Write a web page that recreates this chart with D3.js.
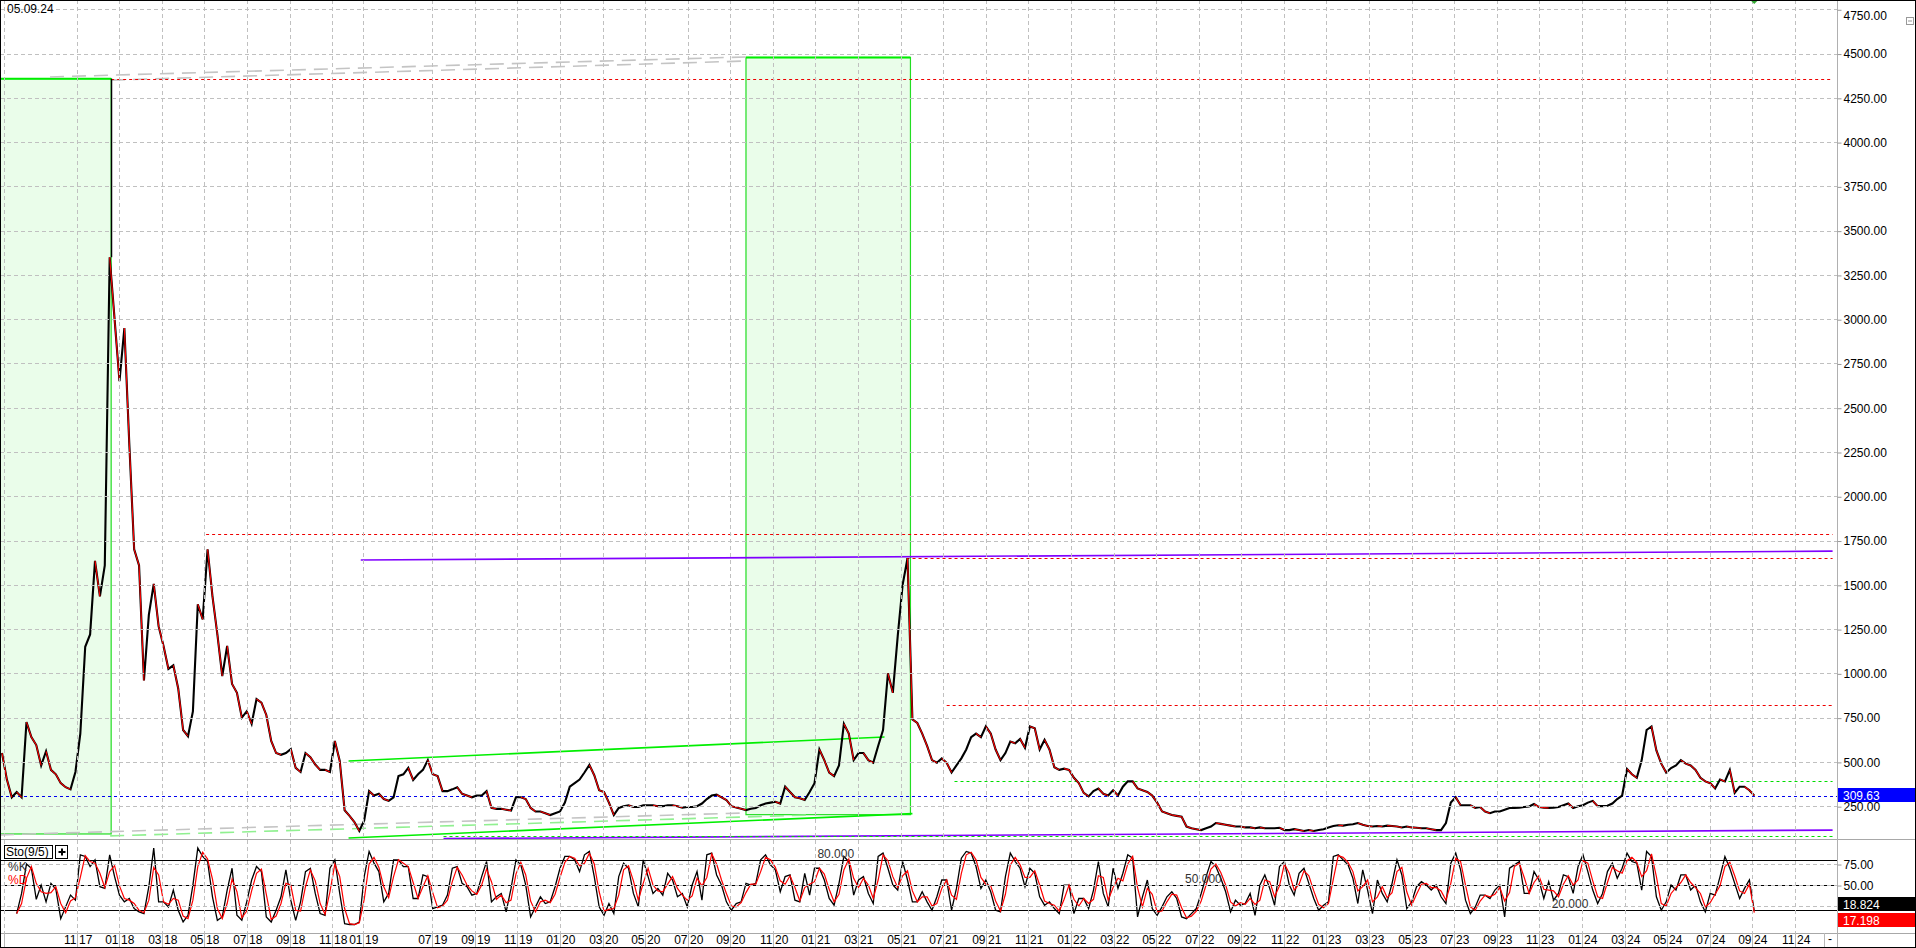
<!DOCTYPE html>
<html><head><meta charset="utf-8">
<script src="https://cdn.jsdelivr.net/npm/d3@7"></script>
<style>
html,body{margin:0;padding:0;background:#fff;overflow:hidden}
svg{display:block;font-family:"Liberation Sans",Arial,sans-serif}
</style></head><body>
<svg id="c" width="1916" height="948"></svg>
<script>
// ---------------- DATA (weekly samples, index = trading week) ----------------
const dateLabel = "05.09.24";
const closes = [
550,400,300,330,300,725,640,595,480,560,
455,430,380,357,345,443,660,1150,1220,1635,
1435,1610,3350,3000,2650,2950,2300,1700,1610,960,
1330,1505,1265,1155,1025,1045,915,680,645,785,
1390,1305,1700,1435,1220,985,1155,940,890,750,
785,715,855,835,765,618,550,540,550,572,
466,443,550,527,485,455,455,443,618,505,
227,195,160,110,170,335,310,320,290,280,
300,420,430,466,398,430,455,510,430,420,
335,335,345,357,320,310,300,310,310,335,
240,235,235,230,225,300,300,290,240,220,
220,210,200,210,220,270,360,380,400,440,
483,425,340,330,270,200,240,250,255,245,
245,255,255,255,250,250,255,255,250,242,
245,245,250,265,290,310,315,300,285,250,
242,235,228,235,240,255,265,270,275,265,
360,330,300,295,285,330,380,570,510,440,
420,480,715,660,510,550,550,510,495,590,
680,1000,890,1210,1500,1650,740,720,660,590,
510,495,520,495,440,480,520,570,640,660,
640,700,660,570,510,550,615,605,630,580,
700,690,570,625,570,470,455,462,455,410,
380,325,305,335,350,320,310,340,310,360,
390,390,350,340,330,310,270,220,210,200,
195,190,135,125,120,115,125,135,155,150,
145,140,135,135,130,130,125,130,125,125,
125,128,115,115,120,115,110,115,110,115,
120,130,138,142,140,145,148,155,145,138,
135,138,135,140,138,135,130,135,130,128,
125,125,120,115,115,155,270,300,255,255,
255,240,245,220,210,220,220,230,240,240,
242,245,248,262,245,242,240,242,245,255,
265,240,250,255,270,280,250,250,252,265,
290,310,460,430,410,510,680,700,565,490,
440,465,480,510,490,480,455,410,390,380,
350,400,390,455,325,360,360,340,309.63
];
const stochK = [
null,null,null,16,40,75,70,33,50,30,
52,45,10,24,38,32,86,84,72,80,
48,46,86,60,38,30,34,22,18,16,
48,94,30,30,24,44,20,6,14,50,
94,84,78,36,8,12,44,70,14,8,
30,56,72,66,12,6,20,36,68,32,
8,30,66,70,40,16,14,70,80,40,
4,3,3,6,60,90,76,66,30,40,
80,80,72,72,34,34,62,60,22,24,
26,38,70,72,52,48,38,40,60,78,
30,36,40,18,46,80,74,50,12,24,
36,28,30,48,70,84,84,80,66,86,
90,60,24,14,28,16,60,76,70,40,
24,80,60,40,46,38,64,56,36,40,
24,50,66,32,86,88,62,50,30,20,
28,30,52,50,52,80,86,74,68,42,
60,62,32,30,64,38,70,70,56,34,
26,52,84,78,38,56,60,40,28,84,
88,70,50,44,78,56,30,30,42,30,
20,36,56,56,20,46,82,90,88,72,
46,56,42,20,18,60,88,78,70,48,
70,64,36,26,30,22,16,50,50,16,
34,34,22,44,78,40,24,70,46,64,
86,82,12,36,56,22,14,24,36,42,
34,12,10,16,22,40,60,78,72,58,
42,18,32,26,28,40,14,50,62,46,
26,72,78,50,38,64,70,52,34,20,
26,30,84,86,80,74,58,28,68,44,
16,56,40,30,52,80,62,22,30,48,
54,50,44,50,36,28,76,88,68,32,
16,24,38,38,34,44,50,12,70,74,
78,40,40,66,56,34,54,32,40,62,
60,40,72,86,66,44,28,40,66,76,
58,70,88,78,76,44,90,84,36,20,
30,50,44,62,62,44,50,30,18,40,
38,60,84,70,52,34,46,56,18.824
];
const stochD = [
null,null,null,16,28,58,72,52,42,40,
41,48,28,17,31,35,59,85,78,76,
64,47,66,73,49,34,32,28,20,17,
32,71,62,30,27,34,32,13,10,32,
72,89,81,57,22,10,28,57,42,11,
19,43,64,69,39,9,13,28,52,50,
20,19,48,68,55,28,15,42,75,60,
22,4,3,5,33,75,83,71,48,35,
60,80,76,72,53,34,48,61,41,23,
25,32,54,71,62,50,43,39,50,69,
54,33,38,29,32,63,77,62,31,18,
30,32,29,39,59,77,84,82,73,76,
88,75,42,19,21,22,38,68,73,55,
32,52,70,50,43,42,51,60,46,38,
32,37,58,49,59,87,75,56,40,25,
24,29,41,51,51,66,83,80,71,55,
51,61,47,31,47,51,54,70,63,45,
30,39,68,81,58,47,58,50,34,56,
86,79,60,47,61,67,43,30,36,36,
25,28,46,56,38,33,64,86,89,80,
59,51,49,31,19,39,74,83,74,59,
59,67,50,31,28,26,19,33,50,33,
25,34,28,33,61,59,32,47,58,55,
75,84,47,24,46,39,18,19,30,39,
38,23,11,13,19,31,50,69,75,65,
50,30,25,29,27,34,27,32,56,54,
36,49,75,64,44,51,67,61,43,27,
23,28,57,85,83,77,66,43,48,56,
30,36,48,35,41,66,71,42,26,39,
51,52,47,47,43,32,52,82,78,50,
24,20,31,38,36,39,47,31,41,72,
76,59,40,53,61,45,44,43,36,51,
61,50,56,79,76,55,36,34,53,71,
67,64,79,83,77,60,67,87,60,28,
25,40,47,53,62,53,47,40,24,29,
39,49,72,77,61,43,40,51,17.198
];
// time axis ticks: month, year, week index
const tickMonths = ["","11","01","03","05","07","09","11","01","07","09","11","01","03","05","07","09","11","01","03","05","07","09","11","01","03","05","07","09","11","01","03","05","07","09","11","01","03","05","07","09","11"];
const tickYears  = ["","17","18","18","18","18","18","18","19","19","19","19","20","20","20","20","20","20","21","21","21","21","21","21","22","22","22","22","22","22","23","23","23","23","23","23","24","24","24","24","24","24"];
const tickWeeks  = [0.4,15.4,24.0,32.7,41.2,50.1,58.8,67.5,73.8,87.9,96.6,105.3,114.0,122.7,131.4,140.1,148.8,157.5,166.2,174.9,183.6,192.3,201.0,209.7,218.4,227.1,235.8,244.5,253.2,261.9,270.6,279.3,288.0,296.7,305.4,314.1,322.8,331.5,340.2,348.9,357.6,366.3];
const priceTicks = [250,500,750,1000,1250,1500,1750,2000,2250,2500,2750,3000,3250,3500,3750,4000,4250,4500,4750];
const stochTicks = [75,50];
const stochGrid = [25,50,75];
const stochLevels = [80,50,20];
const stochLevelLabelWeeks = [166.6,241.7,316.6];
const stochName = "Sto(9/5)";
// annotations: [weekStart, weekEnd, low, high]
const zones = [[-0.41,22.3,93,4358],[152.0,185.6,202,4478]];
// horizontal levels: [weekStart, weekEnd, value]
const redLevels = [[22.3,374,4355],[41.7,374,1787],[184.8,374,1651],[193.0,374,822]];
const blueLevels = [[-0.41,374.9,309.63]];
const greenLevels = [[194.6,374,392],[90.2,374,82]];
// sloped lines: [w0, v0, w1, v1]
const purpleLines = [[73.3,1640,374,1690],[90.2,67,374,115]];
const greenLines = [[70.8,505,180.3,641],[70.8,70,186,208]];
const grayLines = [[9.8,4368,152,4481],[22.3,4350,152,4458],[-0.41,88,152,212]];
const paleGreenLines = [[22.1,82,165,200]];

// ---------------- LAYOUT ----------------
const W=1916,H=948,AX=1837,PB=839,SB=933;
const svg=d3.select("#c");
const x=d3.scaleLinear().domain([-0.41,374.9]).range([0,AX]);
const yP=d3.scaleLinear().domain([64.6,4802.5]).range([PB,0]);
const yS=d3.scaleLinear().domain([-7.1,104.8]).range([SB,PB]);
const cr=v=>Math.round(v)+0.5;
const FONT='"Liberation Sans",Arial,sans-serif';

svg.append("rect").attr("width",W).attr("height",H).attr("fill","#fff");
const defs=svg.append("defs");
defs.append("clipPath").attr("id","clipP").append("rect").attr("x",0).attr("y",0).attr("width",AX).attr("height",PB);
defs.append("clipPath").attr("id","clipS").append("rect").attr("x",0).attr("y",PB+1).attr("width",AX).attr("height",SB-PB-1);

const gP=svg.append("g").attr("clip-path","url(#clipP)");
const gS=svg.append("g").attr("clip-path","url(#clipS)");

// zones (fill)
gP.selectAll("rect.zone").data(zones).join("rect").attr("class","zone")
  .attr("x",d=>x(d[0])).attr("y",d=>yP(d[3]))
  .attr("width",d=>x(d[1])-x(d[0])).attr("height",d=>yP(d[2])-yP(d[3]))
  .attr("fill","#eafdea");

// grid
const grid=svg.append("g").attr("stroke","#c0c0c0").attr("stroke-dasharray","4,3").attr("fill","none");
tickWeeks.forEach(w=>grid.append("line").attr("x1",cr(x(w))).attr("x2",cr(x(w))).attr("y1",0).attr("y2",SB));
priceTicks.forEach(v=>grid.append("line").attr("x1",0).attr("x2",AX).attr("y1",cr(yP(v))).attr("y2",cr(yP(v))));
stochGrid.forEach(v=>grid.append("line").attr("x1",0).attr("x2",AX).attr("y1",cr(yS(v))).attr("y2",cr(yS(v))));

// zone borders
gP.selectAll("rect.zb").data(zones).join("rect").attr("class","zb")
  .attr("x",d=>x(d[0])).attr("y",d=>yP(d[3]))
  .attr("width",d=>x(d[1])-x(d[0])).attr("height",d=>yP(d[2])-yP(d[3]))
  .attr("fill","none").attr("stroke","#22dd22").attr("stroke-width",1.2);
gP.selectAll("line.ztop").data(zones).join("line").attr("class","ztop")
  .attr("x1",d=>x(d[0])).attr("x2",d=>x(d[1])).attr("y1",d=>yP(d[3])).attr("y2",d=>yP(d[3]))
  .attr("stroke","#00ee00").attr("stroke-width",2);

// sloped / level lines
function seg(g,data,stroke,dash,width){
  g.append("g").selectAll("line").data(data).join("line")
   .attr("x1",d=>x(d[0])).attr("y1",d=>yP(d[1])).attr("x2",d=>x(d[2])).attr("y2",d=>yP(d[3]))
   .attr("stroke",stroke).attr("stroke-width",width).attr("stroke-dasharray",dash);
}
function lvl(g,data,stroke,dash,width){
  g.append("g").selectAll("line").data(data).join("line")
   .attr("x1",d=>x(d[0])).attr("x2",d=>x(d[1])).attr("y1",d=>cr(yP(d[2]))).attr("y2",d=>cr(yP(d[2])))
   .attr("stroke",stroke).attr("stroke-width",width).attr("stroke-dasharray",dash);
}
seg(gP,grayLines,"#c4c4c4","14,8",1.6);
seg(gP,paleGreenLines,"#90f090","14,8",1.6);
seg(gP,greenLines,"#00ee00",null,1.6);
seg(gP,purpleLines,"#8000ff",null,1.6);
lvl(gP,redLevels,"#ee0000","3,3",1.2);
lvl(gP,greenLevels,"#00dd00","3,3",1.2);
lvl(gP,blueLevels,"#0000ee","3,3",1.2);

// price line (black) with red on declining weeks
const line=d3.line().x((d,i)=>x(i)).y(d=>yP(d));
gP.append("path").attr("d",line(closes)).attr("fill","none").attr("stroke","#000").attr("stroke-width",2.1).attr("stroke-linejoin","miter");
const downs=[];
closes.forEach((v,i)=>{ if(i>0 && v<closes[i-1]) downs.push(i); });
gP.append("g").selectAll("line").data(downs).join("line")
  .attr("x1",i=>x(i-1)).attr("y1",i=>yP(closes[i-1])).attr("x2",i=>x(i)).attr("y2",i=>yP(closes[i]))
  .attr("stroke","#ff0000").attr("stroke-width",1.1);
// black edge at the first zone's right side up to the spike
gP.append("line").attr("x1",cr(x(zones[0][1]))).attr("x2",cr(x(zones[0][1])))
  .attr("y1",yP(zones[0][3])).attr("y2",yP(d3.max(closes.slice(0,Math.ceil(zones[0][1])+1))))
  .attr("stroke","#000").attr("stroke-width",1.5);

// stochastic
stochLevels.forEach(v=>gS.append("line").attr("x1",0).attr("x2",AX).attr("y1",cr(yS(v))).attr("y2",cr(yS(v))).attr("stroke","#000").attr("stroke-width",1));
const sl=d3.line().defined(d=>d!==null).x((d,i)=>x(i)).y(d=>yS(d));
gS.append("path").attr("d",sl(stochK)).attr("fill","none").attr("stroke","#000").attr("stroke-width",1.3);
gS.append("path").attr("d",sl(stochD)).attr("fill","none").attr("stroke","#ff0000").attr("stroke-width",1.2);
stochLevels.forEach((v,k)=>svg.append("text").attr("x",x(stochLevelLabelWeeks[k])).attr("y",yS(v)-2)
  .attr("font-size",12).attr("font-family",FONT).attr("fill","#333").text(d3.format(".3f")(v)));

// panel separators & borders
svg.append("line").attr("x1",0).attr("x2",W).attr("y1",PB+0.5).attr("y2",PB+0.5).attr("stroke","#a8a8a8");
svg.append("line").attr("x1",0).attr("x2",W).attr("y1",SB+0.5).attr("y2",SB+0.5).attr("stroke","#a8a8a8");
svg.append("line").attr("x1",AX+0.5).attr("x2",AX+0.5).attr("y1",0).attr("y2",H).attr("stroke","#b0b0b0");

// right price axis
const axP=d3.axisRight(yP).tickValues(priceTicks).tickFormat(d3.format(".2f")).tickSize(4).tickPadding(2);
const gA=svg.append("g").attr("transform",`translate(${AX+0.5},0.5)`).call(axP);
gA.select(".domain").remove();
gA.attr("font-size",12).attr("font-family",FONT);
gA.selectAll("line").attr("stroke","#999");
gA.selectAll("text").attr("fill","#000");
gA.selectAll(".tick").filter(d=>d===4750).select("text").attr("dy","0.8em");
const axS=d3.axisRight(yS).tickValues(stochTicks).tickFormat(d3.format(".2f")).tickSize(4).tickPadding(2);
const gA2=svg.append("g").attr("transform",`translate(${AX+0.5},0.5)`).call(axS);
gA2.select(".domain").remove();
gA2.attr("font-size",12).attr("font-family",FONT);
gA2.selectAll("line").attr("stroke","#999");
gA2.selectAll("text").attr("fill","#000");

// value boxes
function vbox(cy,txt,bg){
  svg.append("rect").attr("x",AX+1).attr("y",Math.round(cy)-7).attr("width",W-AX-2).attr("height",14).attr("fill",bg);
  svg.append("text").attr("x",AX+6).attr("y",Math.round(cy)+4.5).attr("font-size",12).attr("font-family",FONT).attr("fill","#fff").text(txt);
}
const lastP=closes[closes.length-1], lastK=stochK[stochK.length-1], lastD=stochD[stochD.length-1];
vbox(yP(lastP)-1,d3.format(".2f")(lastP),"#0000ff");
vbox(yS(lastK)-7,d3.format(".3f")(lastK),"#000");
vbox(yS(lastK)+9,d3.format(".3f")(lastD),"#ff0000");

// time axis
const gT=svg.append("g").attr("font-size",12).attr("font-family",FONT).attr("fill","#000");
tickWeeks.forEach((w,k)=>{
  const xx=cr(x(w));
  svg.append("line").attr("x1",xx).attr("x2",xx).attr("y1",SB).attr("y2",H).attr("stroke","#b8b8b8");
  if(tickMonths[k]){
    gT.append("text").attr("x",xx-1).attr("y",944).attr("text-anchor","end").text(tickMonths[k]);
    gT.append("text").attr("x",xx+1.5).attr("y",944).text(tickYears[k]);
  }
});
svg.append("line").attr("x1",1824.5).attr("x2",1824.5).attr("y1",SB).attr("y2",H).attr("stroke","#b8b8b8");
svg.append("text").attr("x",1828).attr("y",943).attr("font-size",12).attr("font-family",FONT).text("-");

// labels
svg.append("text").attr("x",7).attr("y",13).attr("font-size",12).attr("font-family",FONT).attr("fill","#000").text(dateLabel);
svg.append("rect").attr("x",4.5).attr("y",845.5).attr("width",48).attr("height",13).attr("fill","#fff").attr("stroke","#000");
svg.append("text").attr("x",6).attr("y",856).attr("font-size",12).attr("font-family",FONT).text(stochName);
svg.append("rect").attr("x",55.5).attr("y",845.5).attr("width",12).attr("height",13).attr("fill","#fff").attr("stroke","#000");
svg.append("path").attr("d","M58.5,852 H65.5 M62,848.5 V855.5").attr("stroke","#000").attr("stroke-width",2);
svg.append("text").attr("x",8).attr("y",871).attr("font-size",12).attr("font-family",FONT).attr("fill","#333").text("%K");
svg.append("text").attr("x",8).attr("y",884).attr("font-size",12).attr("font-family",FONT).attr("fill","#ff0000").text("%D");

// last-bar marker and small collapse box
const lx=x(closes.length-1);
svg.append("path").attr("d",`M${lx-4},0 L${lx+4},0 L${lx},4 Z`).attr("fill","#33aa33");
svg.append("rect").attr("x",1906.5).attr("y",17.5).attr("width",7).attr("height",7).attr("fill","#fff").attr("stroke","#999");
svg.append("line").attr("x1",1908).attr("x2",1912).attr("y1",21).attr("y2",21).attr("stroke","#999");

// outer border
svg.append("rect").attr("x",0.5).attr("y",0.5).attr("width",W-1).attr("height",H-1).attr("fill","none").attr("stroke","#000");
</script>
</body></html>
